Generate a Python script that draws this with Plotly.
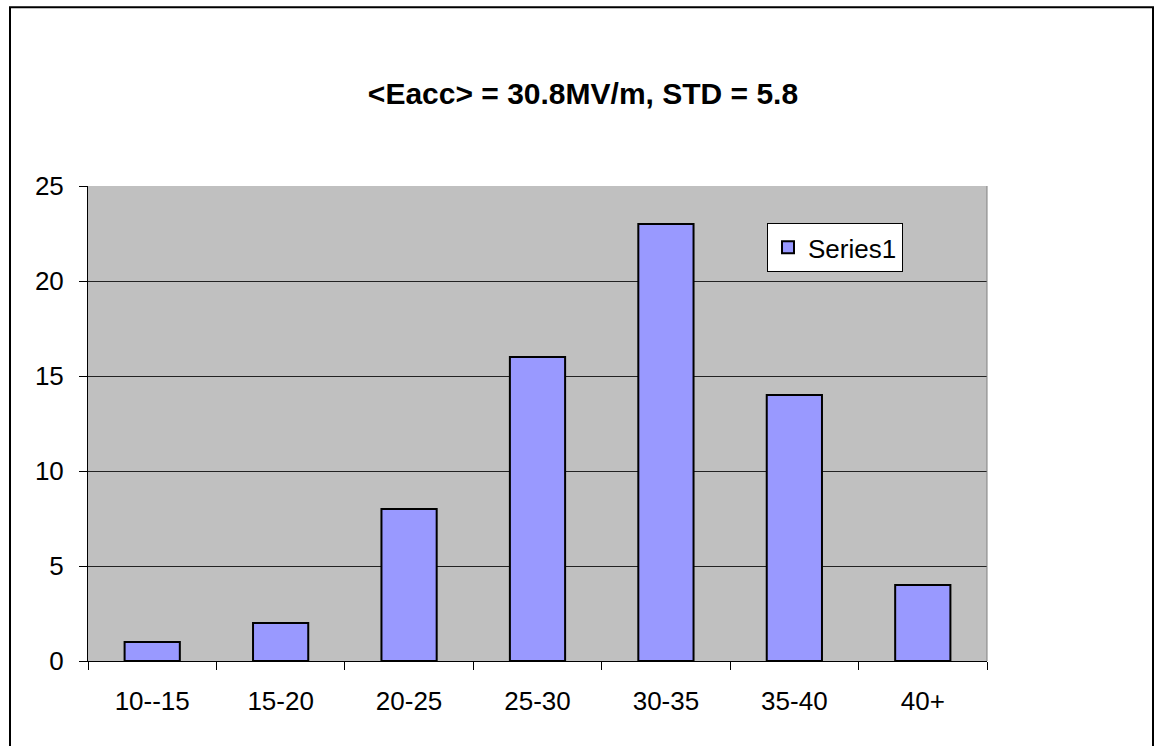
import plotly.graph_objects as go

categories = ["10--15", "15-20", "20-25", "25-30", "30-35", "35-40", "40+"]
values = [1, 2, 8, 16, 23, 14, 4]
series_name = "Series1"
title_text = "&lt;Eacc&gt; = 30.8MV/m, STD = 5.8"

W, H = 1155, 746
L, R, T, B = 88, 987, 186, 661.5

def px_x(px):
    return (px - L) / (R - L)

def px_y(py):
    return (B - py) / (B - T)

fig = go.Figure()
fig.add_trace(go.Bar(
    x=categories, y=values, name=series_name,
    marker=dict(color="#9999FF", line=dict(color="black", width=2)),
    showlegend=True,
))

font = "Arial, Liberation Sans, sans-serif"
fig.update_layout(
    width=W, height=H,
    margin=dict(l=L, r=W - R, t=T, b=H - B, pad=0),
    paper_bgcolor="white",
    plot_bgcolor="#C0C0C0",
    bargap=0.57,
    font=dict(family=font, size=26, color="black"),
    title=dict(text="<b>" + title_text + "</b>", xref="container", yref="container",
               x=583 / W, y=1 - 93 / H, xanchor="center", yanchor="middle",
               font=dict(family=font, size=30, color="black")),
    legend=dict(x=px_x(767), y=px_y(223), xanchor="left", yanchor="top",
                bgcolor="white", bordercolor="black", borderwidth=1,
                font=dict(family=font, size=26, color="black"),
                itemsizing="constant"),
    showlegend=True,
)
fig.update_xaxes(type="category", tickson="boundaries", ticks="outside", ticklen=8,
                 tickcolor="black", tickwidth=1, showline=True, linecolor="black",
                 linewidth=1, showgrid=False, tickfont=dict(size=26),
                 ticklabelstandoff=17)
fig.update_yaxes(range=[0, 25], dtick=5, tick0=0, ticks="outside", ticklen=8,
                 tickcolor="black", showline=True, linecolor="black", linewidth=1,
                 showgrid=True, gridcolor="#222222", gridwidth=1, zeroline=False,
                 tickfont=dict(size=26), ticklabelstandoff=10)
# plot area right border (gray)
fig.add_shape(type="line", xref="paper", yref="paper", x0=1, x1=1, y0=0, y1=1,
              line=dict(color="#808080", width=1))
# outer chart border
fig.add_shape(type="rect", xref="paper", yref="paper",
              x0=px_x(10), x1=px_x(1153), y0=px_y(7), y1=px_y(760),
              line=dict(color="black", width=2), fillcolor="rgba(0,0,0,0)", layer="above")

fig.write_html("out.html")
